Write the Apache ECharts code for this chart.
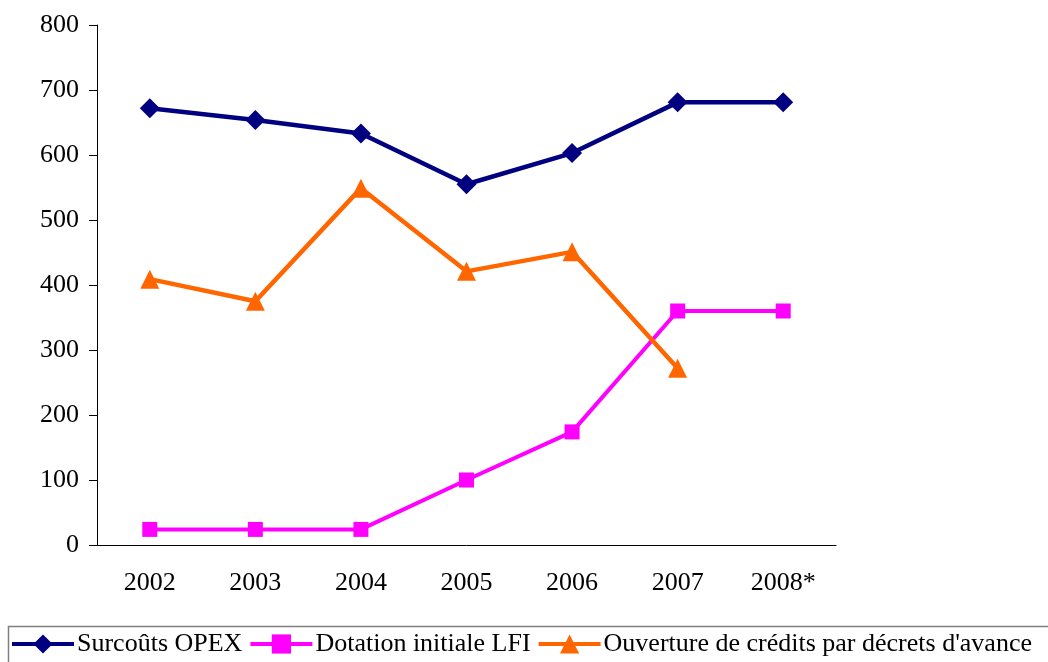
<!DOCTYPE html>
<html>
<head>
<meta charset="utf-8">
<script src="https://cdn.jsdelivr.net/npm/echarts@6/dist/echarts.min.js"></script>
<style>
  html, body { margin: 0; padding: 0; background: #fff; }
  #chart { width: 1048px; height: 662px; }
</style>
</head>
<body>
<div id="chart"></div>
<script>
// Years on the category axis
const years = ['2002', '2003', '2004', '2005', '2006', '2007', '2008*'];

// Series values (millions d'euros)
const surcoutsOpex = [672, 654, 633, 555, 603, 681, 681];
const dotationLfi = [24, 24, 24, 100, 174, 360, 360];
const decretsAvance = [409, 375, 549, 421, 451, 272, null];

// Value axis ticks
const yMin = 0;
const yMax = 800;
const yStep = 100;

const FONT = '"Liberation Serif", "Times New Roman", serif';

const chart = echarts.init(document.getElementById('chart'), null, { renderer: 'canvas' });

chart.setOption({
  backgroundColor: '#ffffff',
  animation: false,
  grid: { left: 97, right: 212, top: 25, bottom: 117, containLabel: false },
  xAxis: {
    type: 'category',
    data: years,
    boundaryGap: true,
    axisLine: { show: true, lineStyle: { color: '#000', width: 1 } },
    axisTick: { show: false },
    axisLabel: { color: '#000', fontFamily: FONT, fontSize: 26, margin: 25 },
    splitLine: { show: false }
  },
  yAxis: {
    type: 'value',
    min: yMin,
    max: yMax,
    interval: yStep,
    axisLine: { show: true, lineStyle: { color: '#000', width: 1 } },
    axisTick: { show: true, inside: false, length: 8, lineStyle: { color: '#000' } },
    axisLabel: { color: '#000', fontFamily: FONT, fontSize: 26, margin: 18 },
    splitLine: { show: false }
  },
  legend: {
    left: 10,
    top: 631,
    itemWidth: 62,
    itemHeight: 24,
    itemGap: 6,
    padding: 0,
    lineStyle: { width: 4 },
    textStyle: { color: '#000', fontFamily: FONT, fontSize: 26, padding: [0, 0, 0, -2] },
    data: ['Surcoûts OPEX', 'Dotation initiale LFI', "Ouverture de crédits par décrets d'avance"]
  },
  graphic: [{
    type: 'rect',
    shape: { x: 8.5, y: 626.5, width: 1100, height: 80 },
    style: { fill: 'none', stroke: '#808080', lineWidth: 1.5 },
    silent: true,
    z: -1
  }],
  series: [
    {
      name: 'Surcoûts OPEX',
      type: 'line',
      data: surcoutsOpex,
      color: '#000080',
      symbol: 'diamond',
      symbolSize: 20,
      lineStyle: { width: 4.5, color: '#000080' },
      itemStyle: { color: '#000080' },
      z: 3
    },
    {
      name: 'Dotation initiale LFI',
      type: 'line',
      data: dotationLfi,
      color: '#FF00FF',
      symbol: 'rect',
      symbolSize: 15,
      lineStyle: { width: 4, color: '#FF00FF' },
      itemStyle: { color: '#FF00FF' },
      z: 2
    },
    {
      name: "Ouverture de crédits par décrets d'avance",
      type: 'line',
      data: decretsAvance,
      color: '#FF6600',
      symbol: 'triangle',
      symbolSize: 19,
      lineStyle: { width: 4.5, color: '#FF6600' },
      itemStyle: { color: '#FF6600' },
      z: 4
    }
  ]
});
</script>
</body>
</html>
